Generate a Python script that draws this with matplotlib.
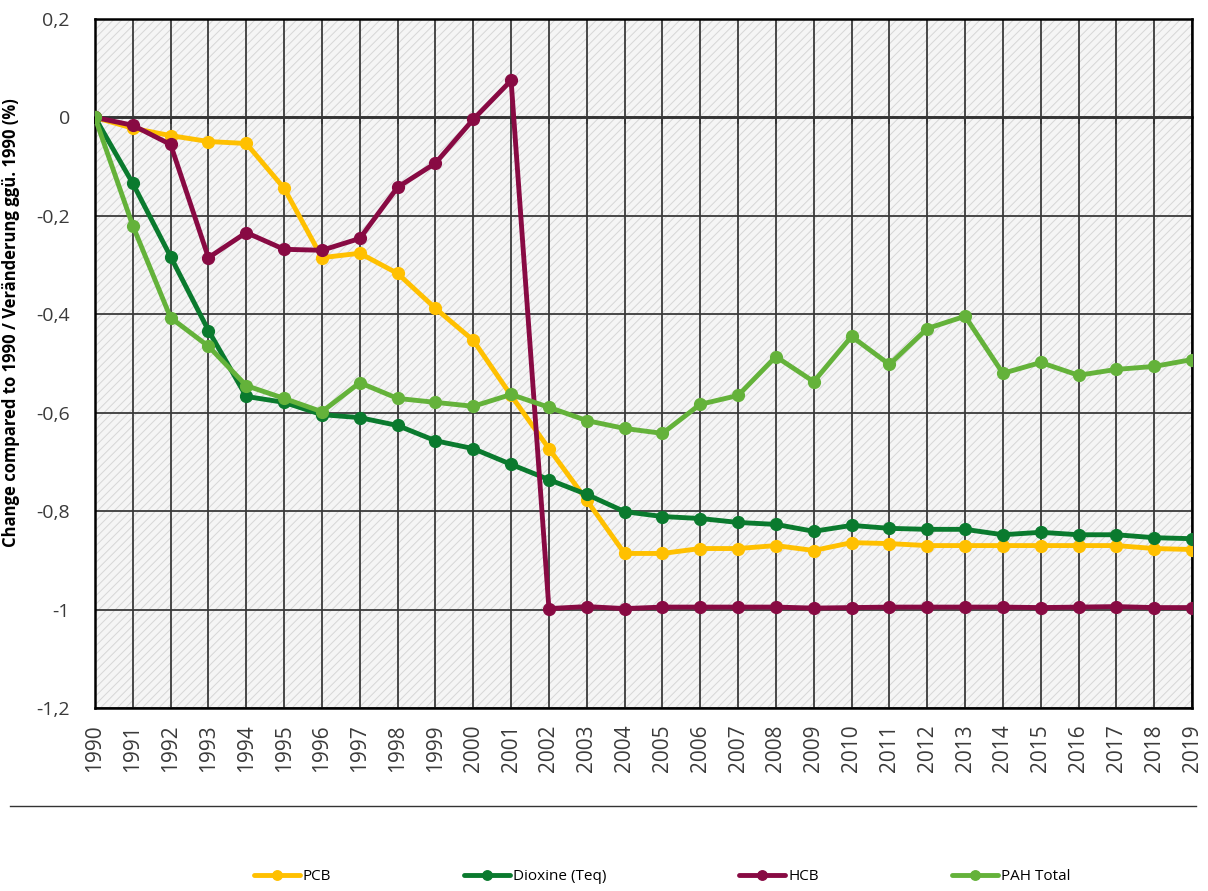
import numpy as np
import matplotlib.pyplot as plt
from matplotlib.lines import Line2D
from matplotlib.patches import Rectangle

years = list(range(1990, 2020))

pcb = [0, -0.022, -0.037, -0.049, -0.053, -0.144, -0.285, -0.276, -0.317, -0.388,
       -0.453, -0.565, -0.673, -0.778, -0.886, -0.886, -0.876, -0.876, -0.870, -0.880,
       -0.864, -0.866, -0.870, -0.870, -0.870, -0.870, -0.870, -0.870, -0.876, -0.878]
dioxine = [0, -0.134, -0.283, -0.433, -0.567, -0.579, -0.604, -0.610, -0.626, -0.657,
           -0.673, -0.705, -0.736, -0.766, -0.801, -0.811, -0.815, -0.823, -0.827, -0.841,
           -0.829, -0.835, -0.837, -0.837, -0.848, -0.843, -0.848, -0.848, -0.854, -0.856]
hcb = [0, -0.016, -0.055, -0.285, -0.234, -0.268, -0.270, -0.246, -0.142, -0.093,
       -0.004, 0.075, -0.998, -0.994, -0.998, -0.995, -0.995, -0.995, -0.995, -0.997,
       -0.996, -0.995, -0.995, -0.995, -0.995, -0.996, -0.995, -0.994, -0.996, -0.996]
pah = [0, -0.220, -0.407, -0.465, -0.545, -0.571, -0.598, -0.539, -0.571, -0.579,
       -0.587, -0.563, -0.589, -0.616, -0.632, -0.642, -0.583, -0.565, -0.486, -0.537,
       -0.445, -0.502, -0.429, -0.404, -0.520, -0.498, -0.524, -0.512, -0.506, -0.492]

series = [
    ('PCB', pcb, '#FFC000'),
    ('Dioxine (Teq)', dioxine, '#0A7A2E'),
    ('HCB', hcb, '#880A43'),
    ('PAH Total', pah, '#64B23A'),
]

yticks = [0.2, 0, -0.2, -0.4, -0.6, -0.8, -1.0, -1.2]
ytick_labels = ['0,2', '0', '-0,2', '-0,4', '-0,6', '-0,8', '-1', '-1,2']

plt.rcParams['font.family'] = ['Open Sans', 'DejaVu Sans']
plt.rcParams['hatch.linewidth'] = 0.7

fig = plt.figure(figsize=(12.08, 8.91), dpi=100)
ax = fig.add_axes([0.0786, 0.2054, 0.9082, 0.7733])

# hatched plot background
ax.patch.set_visible(False)
ax.add_patch(Rectangle((0, 0), 1, 1, transform=ax.transAxes, facecolor='#f5f5f5',
                       edgecolor='#d6d6d6', hatch='////', lw=0, zorder=0))

for name, vals, col in series:
    ax.plot(years, vals, color=col, lw=3.5, marker='o', ms=8.5, label=name,
            solid_capstyle='round', zorder=3)

ax.set_xlim(1990, 2019)
ax.set_ylim(-1.2, 0.2)
ax.set_yticks(yticks)
ax.set_yticklabels(ytick_labels, fontsize=14, color='#3a3a3a')
ax.set_xticks(years)
ax.set_xticklabels([str(y) for y in years], rotation=90, fontsize=15, color='#3a3a3a')
ax.tick_params(axis='y', length=0, pad=18)
ax.tick_params(axis='x', length=0, pad=12)

ax.grid(True, color='#3a3a3a', lw=1.3, zorder=1)
for s in ax.spines.values():
    s.set_color('black')
    s.set_linewidth(1.8)

# axis line crossing at zero with small ticks
sec = ax.secondary_xaxis(0, transform=ax.transData)
sec.set_xticks(years)
sec.set_xticklabels([])
sec.tick_params(direction='out', length=5, width=1.3, color='black')
sec.spines['bottom'].set_linewidth(1.8)

ax.set_ylabel('Change compared to 1990 / Veränderung ggü. 1990 (%)',
              fontsize=12, fontweight='bold')
ax.yaxis.set_label_coords(-0.068, 0.56)

fig.add_artist(Line2D([0.008, 0.99], [0.0955, 0.0955], color='#333333', lw=1))

handles, labels = ax.get_legend_handles_labels()
fig.legend(handles, labels, loc='center', bbox_to_anchor=(0.548, 0.016), ncol=4,
           frameon=False, fontsize=11, handlelength=3, columnspacing=8.7,
           handletextpad=0.2, markerscale=0.8)

fig.savefig('out.png', dpi=100)
